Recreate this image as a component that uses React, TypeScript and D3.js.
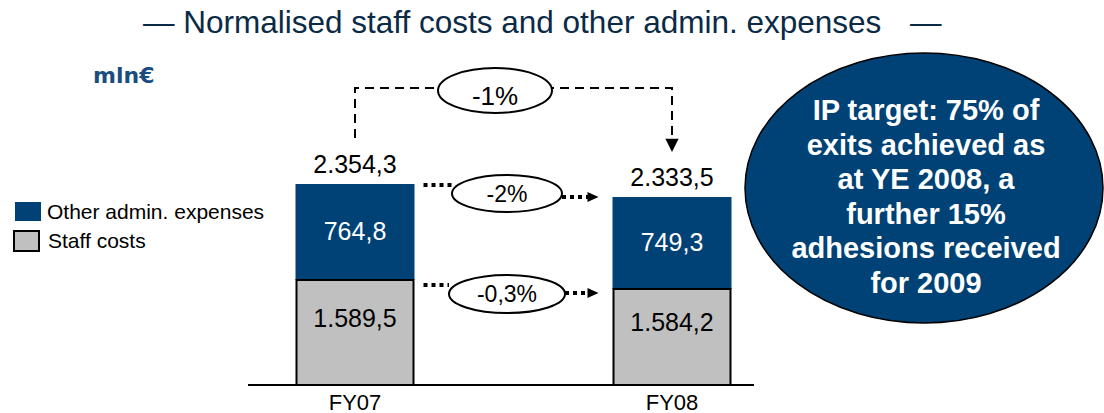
import React from "react";
import * as d3 from "d3";

const categories = ["FY07", "FY08"];
const staffCosts = [1589.5, 1584.2];
const otherAdmin = [764.8, 749.3];
const totals = [2354.3, 2333.5];
const staffLabels = ["1.589,5", "1.584,2"];
const otherLabels = ["764,8", "749,3"];
const totalLabels = ["2.354,3", "2.333,5"];
const changeLabels = { total: "-1%", other: "-2%", staff: "-0,3%" };
const seriesNames = ["Other admin. expenses", "Staff costs"];
const noteLines = [
  "IP target: 75% of",
  "exits achieved as",
  "at YE 2008, a",
  "further 15%",
  "adhesions received",
  "for 2009",
];

const BLUE = "#004275";
const GREY = "#C0C0C0";
const FONT = "'Liberation Sans', Arial, sans-serif";

export default function App() {
  const W = 1104, H = 413;
  const base = 385;
  const barW = 119;
  const x = d3.scalePoint<string>().domain(categories).range([355, 672]);
  // presentation-style (truncated) segment scales
  const staffH = d3.scaleLinear().domain([1527.7, 1589.5]).range([0, 105]);
  const otherH = d3.scaleLinear().domain([392, 764.8]).range([0, 96]);

  const bars = categories.map((c, i) => {
    const cx = x(c)!;
    const sTop = base - staffH(staffCosts[i]);
    const oTop = sTop - otherH(otherAdmin[i]);
    return { c, cx, sTop, oTop, i, total: totals[i] };
  });
  const [b0, b1] = bars;

  const arrowHead = (tx: number, ty: number, dir: "right" | "down", size = 10) => {
    if (dir === "right")
      return `M${tx},${ty} L${tx - size},${ty - size * 0.45} L${tx - size},${ty + size * 0.45} Z`;
    return `M${tx},${ty} L${tx - size * 0.55},${ty - size * 1.1} L${tx + size * 0.55},${ty - size * 1.1} Z`;
  };

  const connector = (
    y1: number,
    y2: number,
    label: string,
    cy: number,
    rx: number,
    ry: number
  ) => {
    const ex = 507;
    const x1 = b0.cx + barW / 2 + 9;
    const x2 = b1.cx - barW / 2 - 14;
    return (
      <g>
        <line x1={x1} y1={y1} x2={ex - rx} y2={y1} stroke="#000" strokeWidth={4} strokeDasharray="4 4" />
        <line x1={ex + rx} y1={y2} x2={x2 - 9} y2={y2} stroke="#000" strokeWidth={4} strokeDasharray="4 4" />
        <path d={arrowHead(x2, y2, "right", 11)} fill="#000" />
        <ellipse cx={ex} cy={cy} rx={rx} ry={ry} fill="#fff" stroke="#000" strokeWidth={2} />
        <text x={ex} y={cy + 8} textAnchor="middle" fontSize={23} fontFamily={FONT} fill="#000">
          {label}
        </text>
      </g>
    );
  };

  const topY = 88;
  return (
    <svg width={W} height={H} style={{ position: "absolute", left: 0, top: 0 }}>
      <rect width={W} height={H} fill="#fff" />
      {/* title */}
      <text x={143} y={33} fontSize={31.5} fontFamily={FONT} fill="#0B2A45">
        — Normalised staff costs and other admin. expenses
      </text>
      <text x={910} y={33} fontSize={31.5} fontFamily={FONT} fill="#0B2A45">—</text>
      <text x={93} y={83} fontSize={22} fontWeight="bold" fontFamily="'DejaVu Sans', Verdana, sans-serif" fill="#1B4E80">
        mln€
      </text>

      {/* legend */}
      <rect x={15} y={202} width={26} height={19} fill={BLUE} />
      <text x={47} y={219} fontSize={21} fontFamily={FONT} fill="#000">{seriesNames[0]}</text>
      <rect x={14} y={231} width={25} height={20} fill={GREY} stroke="#000" strokeWidth={2} />
      <text x={48} y={248} fontSize={21} fontFamily={FONT} fill="#000">{seriesNames[1]}</text>

      {/* top dashed connector */}
      <path
        d={`M${b0.cx},${b0.oTop - 46} V${topY} H${b1.cx} V${b1.oTop - 55}`}
        fill="none"
        stroke="#000"
        strokeWidth={2}
        strokeDasharray="9 6"
      />
      <path d={arrowHead(b1.cx, b1.oTop - 45, "down", 12)} fill="#000" />
      <ellipse cx={495} cy={90.5} rx={57} ry={22.5} fill="#fff" stroke="#000" strokeWidth={2} />
      <text x={495} y={105} textAnchor="middle" fontSize={26} fontFamily={FONT} fill="#000">
        {changeLabels.total}
      </text>

      {/* bars */}
      {bars.map((b) => (
        <g key={b.c}>
          <rect x={b.cx - barW / 2} y={b.oTop} width={barW} height={b.sTop - b.oTop} fill={BLUE} />
          <rect
            x={b.cx - barW / 2 + 1}
            y={b.sTop}
            width={barW - 2}
            height={base - b.sTop}
            fill={GREY}
            stroke="#000"
            strokeWidth={2}
          />
          <text x={b.cx} y={(b.oTop + b.sTop) / 2 + 8} textAnchor="middle" fontSize={25} fontFamily={FONT} fill="#fff">
            {otherLabels[b.i]}
          </text>
          <text x={b.cx} y={(b.sTop + base) / 2 - 6} textAnchor="middle" fontSize={25} fontFamily={FONT} fill="#000">
            {staffLabels[b.i]}
          </text>
          <text x={b.cx} y={b.oTop - 11} textAnchor="middle" fontSize={25} fontFamily={FONT} fill="#000">
            {totalLabels[b.i]}
          </text>
          <text x={b.cx} y={410} textAnchor="middle" fontSize={22} fontFamily={FONT} fill="#000">
            {b.c}
          </text>
        </g>
      ))}
      <line x1={248} y1={base} x2={754} y2={base} stroke="#000" strokeWidth={2} />

      {/* side connectors */}
      {connector(b0.oTop + 1, b1.oTop, changeLabels.other, 193.5, 55, 18.5)}
      {connector(b0.sTop + 5, b1.sTop + 4, changeLabels.staff, 294, 58, 19)}

      {/* note ellipse */}
      <ellipse cx={924} cy={188} rx={179} ry={135} fill={BLUE} stroke="#000" strokeWidth={1.5} />
      {noteLines.map((l, i) => (
        <text
          key={i}
          x={926}
          y={120 + i * 34.6}
          textAnchor="middle"
          fontSize={29}
          fontWeight="bold"
          fontFamily={FONT}
          fill="#fff"
        >
          {l}
        </text>
      ))}
    </svg>
  );
}
